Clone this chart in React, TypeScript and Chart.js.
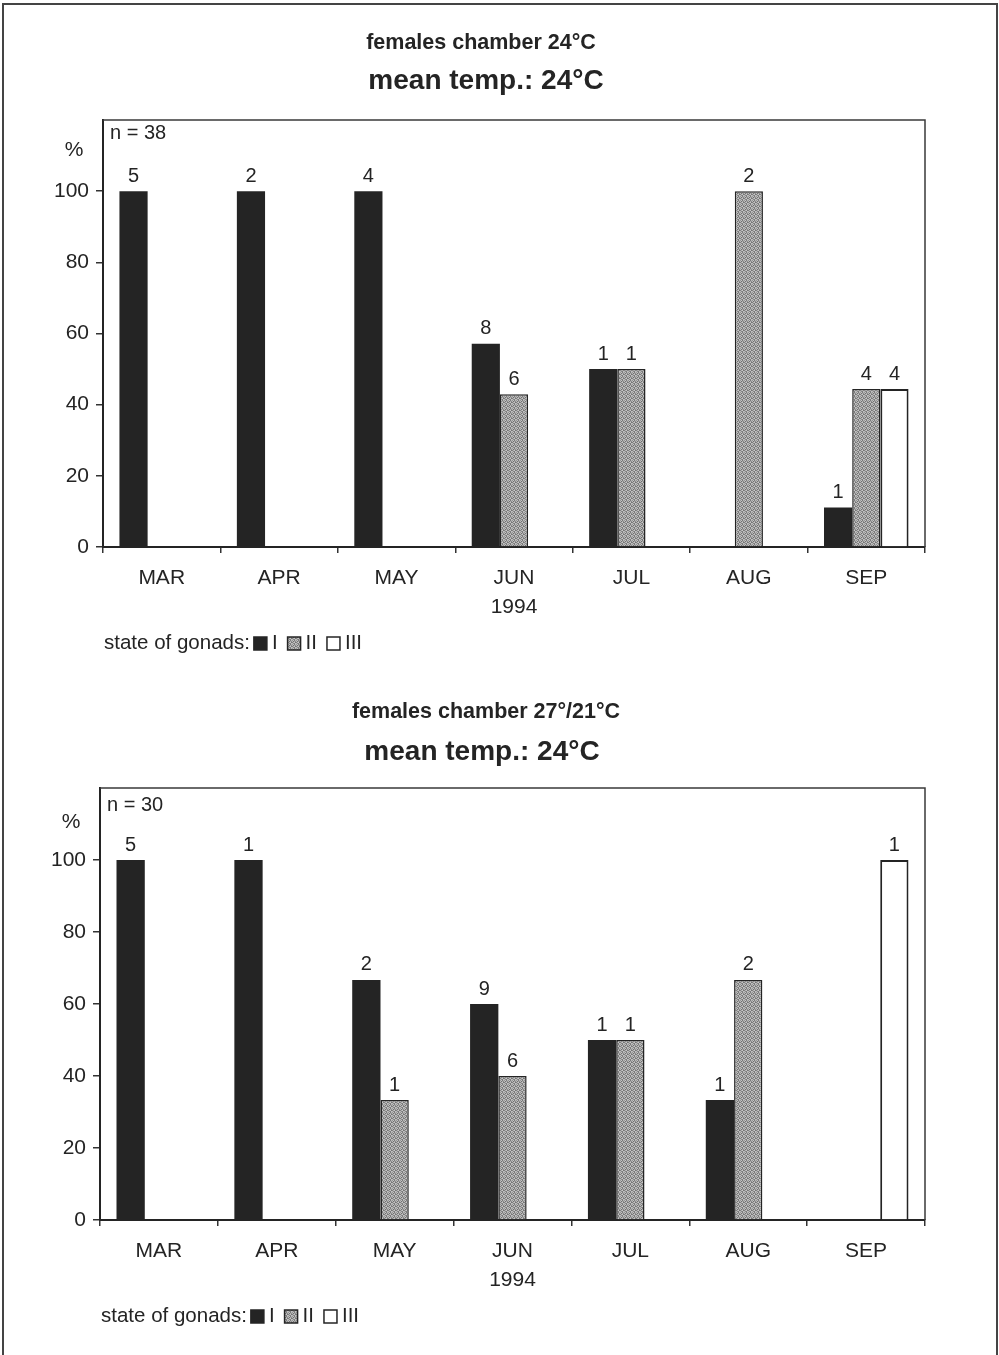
import React, { useEffect, useRef } from "react";
import { Chart, registerables } from "chart.js";
Chart.register(...registerables);

// ---------- data ----------
const months = ["MAR", "APR", "MAY", "JUN", "JUL", "AUG", "SEP"];
const yearLabel = "1994";
const yearUnderIndex = 3;
const stateNames = ["I", "II", "III"];
const legendCaption = "state of gonads:";
const yTickValues = [0, 20, 40, 60, 80, 100];
const yMax = 120;
const yUnit = "%";

// panel 1
const p1Title = "females chamber 24°C";
const p1Subtitle = "mean temp.: 24°C";
const p1N = "n = 38";
const p1StateI = [100, 100, 100, 57.1, 50, null, 11.1];
const p1StateII = [null, null, null, 42.9, 50, 100, 44.4];
const p1StateIII = [null, null, null, null, null, null, 44.4];
const p1CountI = ["5", "2", "4", "8", "1", "", "1"];
const p1CountII = ["", "", "", "6", "1", "2", "4"];
const p1CountIII = ["", "", "", "", "", "", "4"];

// panel 2
const p2Title = "females chamber 27°/21°C";
const p2Subtitle = "mean temp.: 24°C";
const p2N = "n = 30";
const p2StateI = [100, 100, 66.7, 60, 50, 33.3, null];
const p2StateII = [null, null, 33.3, 40, 50, 66.7, null];
const p2StateIII = [null, null, null, null, null, null, 100];
const p2CountI = ["5", "1", "2", "9", "1", "1", ""];
const p2CountII = ["", "", "1", "6", "1", "2", ""];
const p2CountIII = ["", "", "", "", "", "", "1"];

// ---------- styling ----------
const FONT = "'Liberation Sans', Arial, Helvetica, sans-serif";
const INK = "#242424";

function makeStipple(): CanvasPattern | string {
  const shades = [
    [150, 196, 122, 182],
    [188, 112, 170, 140],
    [128, 178, 200, 116],
    [184, 138, 124, 194],
  ];
  const c = document.createElement("canvas");
  c.width = 4;
  c.height = 4;
  const g = c.getContext("2d");
  if (!g) return "#a8a8a8";
  shades.forEach((row, y) =>
    row.forEach((v, x) => {
      g.fillStyle = `rgb(${v},${v},${v})`;
      g.fillRect(x, y, 1, 1);
    })
  );
  const p = g.createPattern(c, "repeat");
  return p || "#a8a8a8";
}

type PanelProps = {
  title: string;
  subtitle: string;
  n: string;
  stateI: (number | null)[];
  stateII: (number | null)[];
  stateIII: (number | null)[];
  countI: string[];
  countII: string[];
  countIII: string[];
  top: number;
  height: number;
  plot: { l: number; r: number; t: number; b: number };
  titleX: number;
  titleY: number;
  subX: number;
  subY: number;
  nDy: number;
};

function Panel(props: PanelProps) {
  const ref = useRef<HTMLCanvasElement>(null);
  useEffect(() => {
    const canvas = ref.current;
    if (!canvas) return;
    const W = 999;
    const H = props.height;
    const yW = 60;
    const xH = 40;
    const stipple = makeStipple();
    const fills = [INK, stipple, "#ffffff"];
    const counts = [props.countI, props.countII, props.countIII];

    const textPlugin = {
      id: "texts",
      afterDraw(chart: any) {
        const ctx = chart.ctx;
        const a = chart.chartArea;
        ctx.save();
        // frame top/right
        ctx.strokeStyle = "#3a3a3a";
        ctx.lineWidth = 1.5;
        ctx.beginPath();
        ctx.moveTo(a.left, a.top);
        ctx.lineTo(a.right, a.top);
        ctx.lineTo(a.right, a.bottom);
        ctx.stroke();

        ctx.fillStyle = INK;
        // titles
        ctx.textAlign = "center";
        ctx.textBaseline = "middle";
        ctx.font = `bold 21.5px ${FONT}`;
        ctx.fillText(props.title, props.titleX, props.titleY);
        ctx.font = `bold 28px ${FONT}`;
        ctx.fillText(props.subtitle, props.subX, props.subY);

        // n =
        ctx.textAlign = "left";
        ctx.font = `20px ${FONT}`;
        ctx.fillText(props.n, a.left + 7, a.top + props.nDy);
        // %
        ctx.textAlign = "center";
        ctx.font = `21px ${FONT}`;
        ctx.fillText(yUnit, a.left - 29, a.top + 30 + (props.nDy - 13));

        // year
        const xs = chart.scales.x;
        ctx.fillText(yearLabel, xs.getPixelForValue(yearUnderIndex), a.bottom + 60);

        // counts above bars
        ctx.textBaseline = "bottom";
        ctx.font = `20px ${FONT}`;
        for (let d = 0; d < 3; d++) {
          const meta = chart.getDatasetMeta(d);
          meta.data.forEach((el: any, j: number) => {
            const txt = counts[d][j];
            const v = chart.data.datasets[d].data[j];
            if (!txt || v == null) return;
            ctx.fillText(txt, el.x, el.y - 5);
          });
        }

        // legend
        ctx.textAlign = "left";
        ctx.textBaseline = "middle";
        ctx.font = `20.5px ${FONT}`;
        const ly = a.bottom + 96;
        let x = a.left + 1;
        ctx.fillText(legendCaption, x, ly);
        x += ctx.measureText(legendCaption).width + 4;
        for (let d = 0; d < 3; d++) {
          ctx.fillStyle = fills[d] as any;
          ctx.fillRect(x, ly - 6, 13, 13);
          ctx.strokeStyle = INK;
          ctx.lineWidth = 1.5;
          ctx.strokeRect(x, ly - 6, 13, 13);
          x += 18;
          ctx.fillStyle = INK;
          ctx.fillText(stateNames[d], x, ly);
          x += ctx.measureText(stateNames[d]).width + 10;
        }
        ctx.restore();
      },
    };

    const chart = new Chart(canvas, {
      type: "bar",
      data: {
        labels: months,
        datasets: [
          {
            label: stateNames[0],
            data: props.stateI,
            backgroundColor: INK,
            borderColor: INK,
            borderWidth: 0,
          },
          {
            label: stateNames[1],
            data: props.stateII,
            backgroundColor: stipple as any,
            borderColor: INK,
            borderWidth: 1.5,
          },
          {
            label: stateNames[2],
            data: props.stateIII,
            backgroundColor: "#ffffff",
            borderColor: INK,
            borderWidth: 2,
          },
        ],
      },
      options: {
        animation: false,
        responsive: false,
        maintainAspectRatio: false,
        devicePixelRatio: 1,
        layout: {
          padding: {
            left: props.plot.l - yW,
            right: W - props.plot.r,
            top: props.plot.t,
            bottom: H - props.plot.b - xH,
          },
        },
        plugins: {
          legend: { display: false },
          title: { display: false },
          tooltip: { enabled: false },
        },
        datasets: {
          bar: { categoryPercentage: 0.72, barPercentage: 1.0, grouped: true },
        },
        scales: {
          x: {
            afterFit: (s: any) => {
              s.height = xH;
            },
            grid: {
              drawOnChartArea: false,
              drawTicks: true,
              tickLength: 6,
              color: "#333",
              lineWidth: 1.5,
              offset: true,
            },
            border: { display: true, color: INK, width: 2 },
            ticks: {
              color: INK,
              font: { family: FONT, size: 21 },
              padding: 13,
              maxRotation: 0,
            },
          },
          y: {
            min: 0,
            max: yMax,
            afterFit: (s: any) => {
              s.width = yW;
            },
            afterBuildTicks: (s: any) => {
              s.ticks = [...yTickValues, yMax].map((v) => ({ value: v }));
            },
            grid: {
              drawOnChartArea: false,
              drawTicks: true,
              tickLength: 7,
              color: (c: any) => (c.tick && c.tick.value === yMax ? "rgba(0,0,0,0)" : "#333"),
              lineWidth: 1.5,
            },
            border: { display: true, color: INK, width: 2 },
            ticks: {
              color: INK,
              font: { family: FONT, size: 21 },
              padding: 7,
              callback: (v: any) => (yTickValues.includes(Number(v)) ? String(v) : ""),
            },
          },
        },
      } as any,
      plugins: [textPlugin],
    });
    return () => chart.destroy();
  }, []);
  return (
    <canvas
      ref={ref}
      width={999}
      height={props.height}
      style={{ position: "absolute", left: 0, top: props.top, width: 999, height: props.height, display: "block" }}
    />
  );
}

export default function App() {
  return (
    <div
      style={{
        position: "absolute",
        left: 0,
        top: 0,
        width: 999,
        height: 1355,
        background: "#fff",
        overflow: "hidden",
      }}
    >
      <Panel
        title={p1Title}
        subtitle={p1Subtitle}
        n={p1N}
        stateI={p1StateI}
        stateII={p1StateII}
        stateIII={p1StateIII}
        countI={p1CountI}
        countII={p1CountII}
        countIII={p1CountIII}
        top={0}
        height={668}
        plot={{ l: 103, r: 925, t: 120, b: 547 }}
        titleX={481}
        titleY={43}
        subX={486}
        subY={81}
        nDy={13}
      />
      <Panel
        title={p2Title}
        subtitle={p2Subtitle}
        n={p2N}
        stateI={p2StateI}
        stateII={p2StateII}
        stateIII={p2StateIII}
        countI={p2CountI}
        countII={p2CountII}
        countIII={p2CountIII}
        top={668}
        height={687}
        plot={{ l: 100, r: 925, t: 120, b: 552 }}
        titleX={486}
        titleY={44}
        subX={482}
        subY={84}
        nDy={17}
      />
      <div
        style={{
          position: "absolute",
          left: 2,
          top: 3,
          width: 992,
          height: 1400,
          borderTop: "2px solid #444",
          borderLeft: "2px solid #444",
          borderRight: "2px solid #444",
          pointerEvents: "none",
        }}
      />
    </div>
  );
}
